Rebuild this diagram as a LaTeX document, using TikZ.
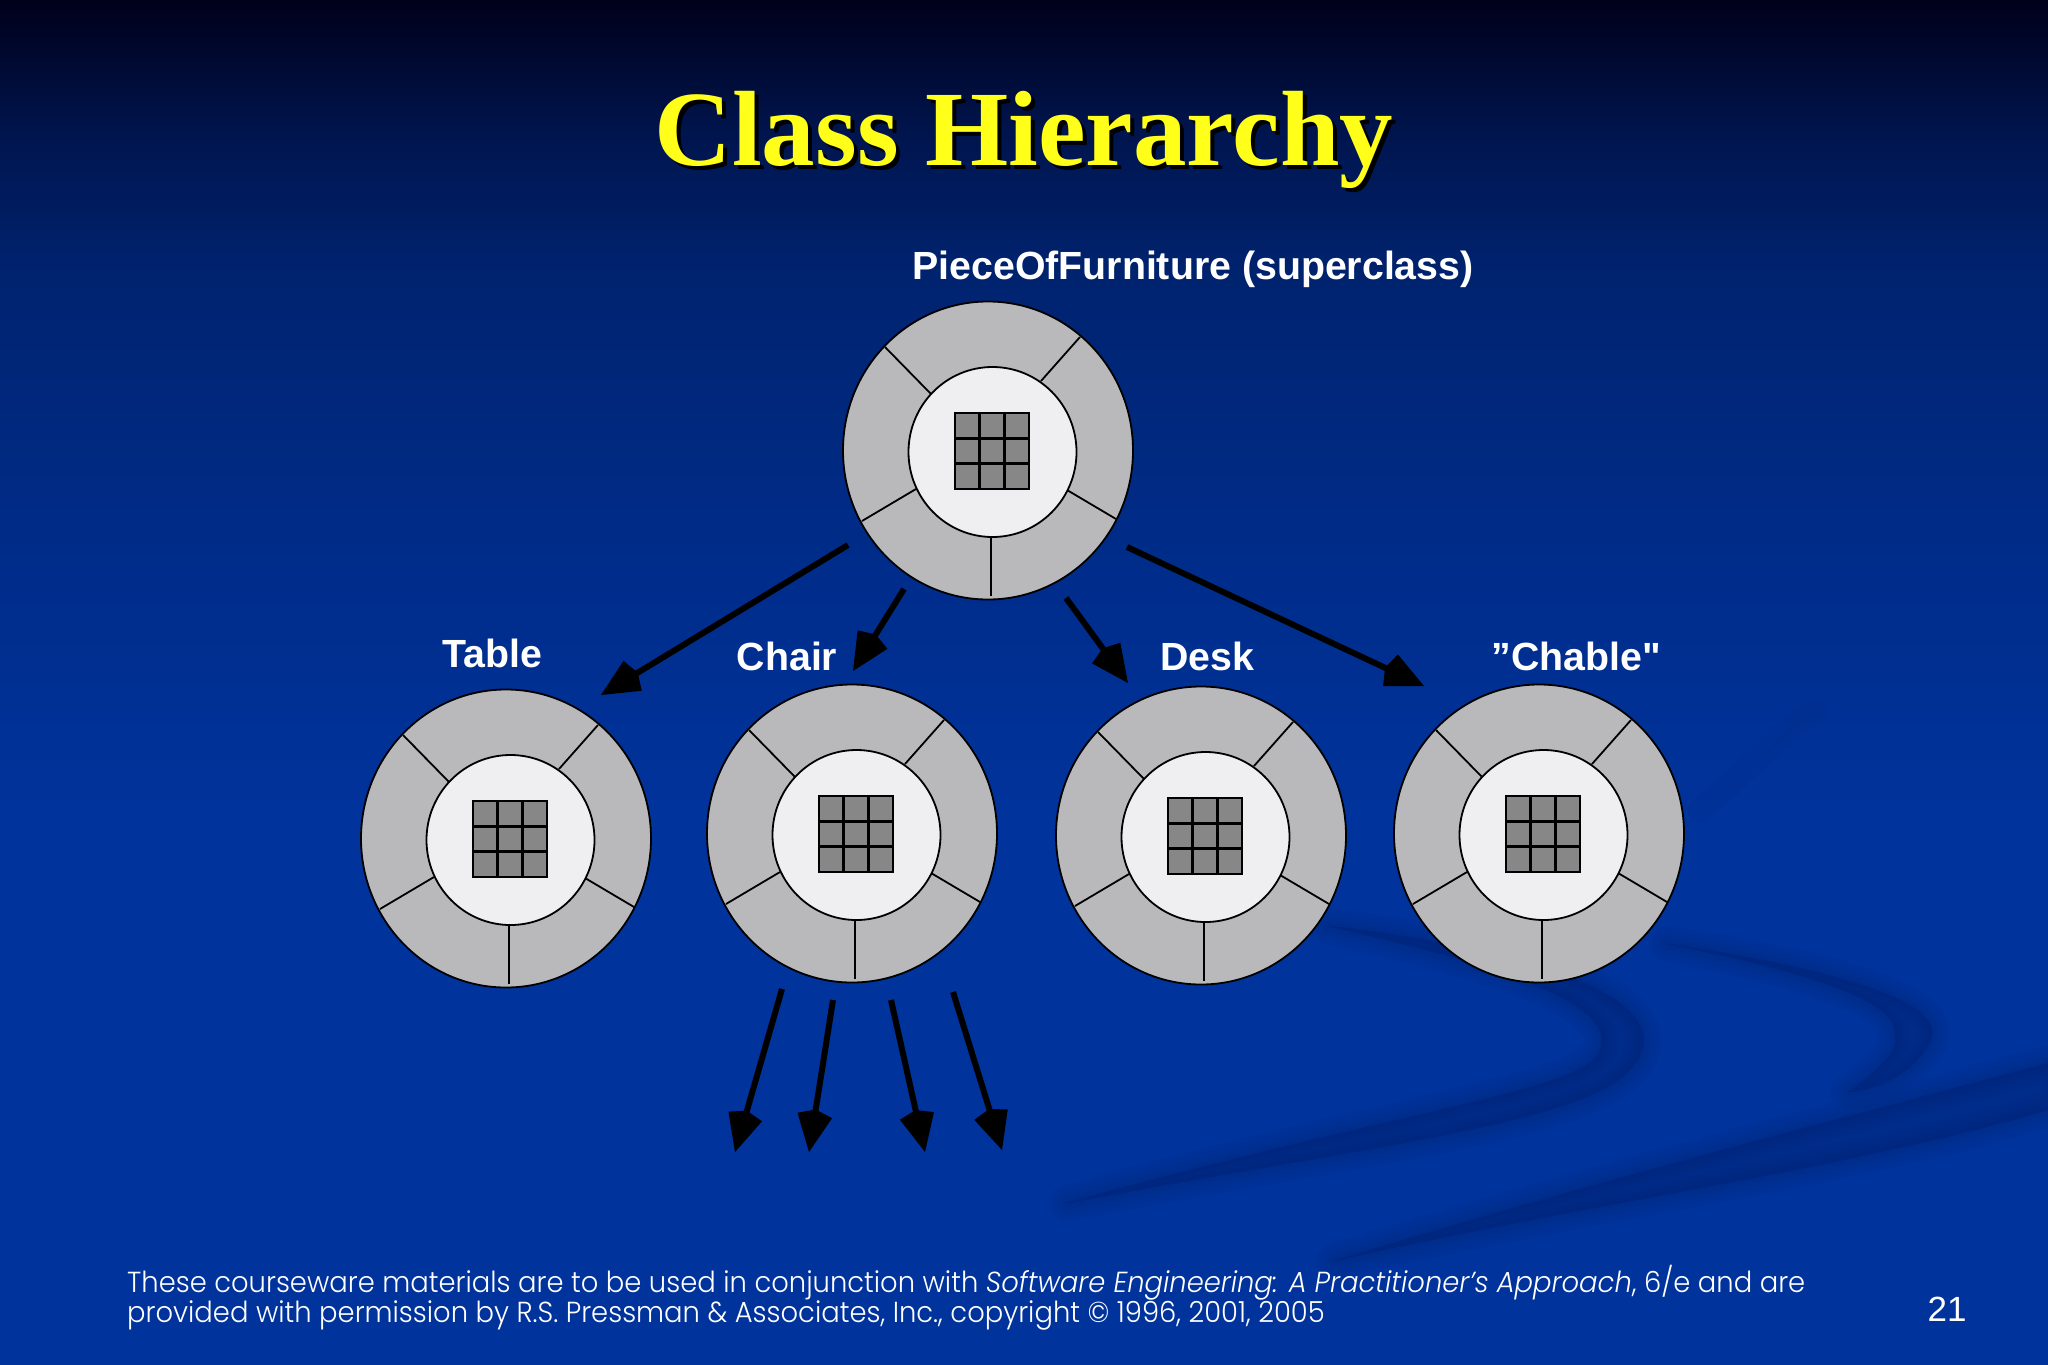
\documentclass[tikz,border=0pt]{standalone}
\usepackage{fontspec}
\usetikzlibrary{arrows.meta}
\setmainfont{Liberation Sans}
\newfontfamily\titlefont{Liberation Serif}
\newfontfamily\labelfont{Liberation Sans}
\newfontfamily\footfont[FakeStretch=0.945]{Poppins Light}
\definecolor{ringgray}{HTML}{B9B8BA}
\definecolor{hubgray}{HTML}{EFEEF1}
\definecolor{cellgray}{HTML}{878787}
\definecolor{swooshc}{HTML}{00236E}
\definecolor{titleyellow}{HTML}{FFFF1A}
\definecolor{bg1}{HTML}{00001A}
\definecolor{bg2}{HTML}{00154F}
\definecolor{bg3}{HTML}{00236F}
\definecolor{bg4}{HTML}{002C89}
\definecolor{bg5}{HTML}{00339C}
\pgfdeclareverticalshading{slidebg}{100bp}{
  color(0bp)=(bg5); color(25bp)=(bg5); color(45bp)=(bg5); color(55bp)=(bg4);
  color(65bp)=(bg3); color(70bp)=(bg2); color(75bp)=(bg1); color(100bp)=(bg1)}
\tikzset{
  x=1pt,y=-1pt,
  spoke/.style={draw=black,line width=1.8pt},
  hub/.style={draw=black,line width=1.8pt,fill=hubgray},
  cell/.style={draw=black,line width=2pt,fill=cellgray},
  celllines/.style={draw=black,line width=3.4pt},
  inherit/.style={draw=black,line width=6pt,-{Kite[length=43pt,width=35pt,inset=6pt]}},
  classname/.style={text=white,anchor=base,font=\labelfont\bfseries\fontsize{39.3}{39.3}\selectfont},
  swoosh/.style={line join=round,draw=swooshc,fill=swooshc,opacity=0.065},
  wheel/.pic={
    \fill[ringgray,draw=black,line width=1.8pt] (988,450.5) ellipse [x radius=145,y radius=149];
    \coordinate (-s1a) at (885,347); \coordinate (-s1b) at (931,394);
    \coordinate (-s2a) at (1080,337); \coordinate (-s2b) at (1041,381);
    \coordinate (-s3a) at (862,521); \coordinate (-s3b) at (916,489);
    \coordinate (-s4a) at (1116,519); \coordinate (-s4b) at (1067,490);
    \coordinate (-s5a) at (991,596); \coordinate (-s5b) at (991,536);
    \draw[spoke] (-s1a)--(-s1b);
    \draw[spoke] (-s2a)--(-s2b);
    \draw[spoke] (-s3a)--(-s3b);
    \draw[spoke] (-s4a)--(-s4b);
    \draw[spoke] (-s5a)--(-s5b);
    \draw[hub] (992.5,452) ellipse [x radius=84,y radius=85];
    \draw[cell] (955,413) rectangle (1029,489);
    \draw[celllines] (979.7,413)--(979.7,489) (1004.3,413)--(1004.3,489)
                (955,438.3)--(1029,438.3) (955,463.7)--(1029,463.7);
  }
}
\begin{document}
\begin{tikzpicture}
\useasboundingbox (0,0) rectangle (2048,1365);
\shade[shading=slidebg] (0,0) rectangle (2048,1365);
% background swooshes
\foreach \w in {1,7,14,21,28,36}{
  \path[swoosh,line width=\w pt] (1327,926) .. controls (1500,945) and (1670,990) .. (1640,1055) .. controls (1615,1120) and (1400,1140) .. (1067,1203) .. controls (1400,1110) and (1590,1090) .. (1600,1050) .. controls (1620,1000) and (1480,960) .. (1327,926) -- cycle;
  \path[swoosh,line width=\w pt] (1668,944) .. controls (1810,965) and (1960,1000) .. (1928,1045) .. controls (1915,1070) and (1880,1090) .. (1848,1092) .. controls (1880,1070) and (1900,1050) .. (1895,1035) .. controls (1900,1000) and (1800,970) .. (1668,944) -- cycle;
  \path[swoosh,line width=\w pt] (2060,1060) .. controls (1800,1130) and (1600,1180) .. (1334,1261) .. controls (1600,1200) and (1850,1170) .. (2060,1106) -- cycle;
}
\draw[swoosh,line width=24pt,line cap=round,opacity=0.07] (1700,810) .. controls (1740,780) and (1780,730) .. (1815,712);
% title
\node[anchor=base,text=black,font=\titlefont\bfseries\fontsize{107}{107}\selectfont] (titleshadow) at (1028,169) {Class Hierarchy};
\node[anchor=base,text=titleyellow,font=\titlefont\bfseries\fontsize{107}{107}\selectfont] (title) at (1024,165) {Class Hierarchy};
% wheels
\pic (top) at (0,0) {wheel};
\pic (table) at (-482,388) {wheel};
\pic (chair) at (-136,383) {wheel};
\pic (desk) at (213,385) {wheel};
\pic (chable) at (551,383) {wheel};
% labels
\node[classname] (lsuper) at (1193,279) {PieceOfFurniture (superclass)};
\node[classname] (ltable) at (492.5,667) {Table};
\node[classname] (lchair) at (787,670) {Chair};
\node[classname] (ldesk) at (1207,670) {Desk};
\node[classname] (lchable) at (1576,670) {”Chable"};
% arrows
\coordinate (a1s) at (848,545); \coordinate (a1e) at (601,695);
\coordinate (a2s) at (904,589); \coordinate (a2e) at (853,671);
\coordinate (a3s) at (1066,598); \coordinate (a3e) at (1128,683);
\coordinate (a4s) at (1127,547); \coordinate (a4e) at (1424,686);
\coordinate (b1s) at (782,989); \coordinate (b1e) at (735,1152);
\coordinate (b2s) at (833,1000); \coordinate (b2e) at (809,1152);
\coordinate (b3s) at (891,1000); \coordinate (b3e) at (925,1152);
\coordinate (b4s) at (953,992); \coordinate (b4e) at (1002,1150);
\draw[inherit] (a1s)--(a1e);
\draw[inherit] (a2s)--(a2e);
\draw[inherit] (a3s)--(a3e);
\draw[inherit] (a4s)--(a4e);
\draw[inherit] (b1s)--(b1e);
\draw[inherit] (b2s)--(b2e);
\draw[inherit] (b3s)--(b3e);
\draw[inherit] (b4s)--(b4e);
% footer
\node[anchor=base west,inner sep=0pt,text=white,font=\footfont\fontsize{29}{29}\selectfont] (foot1) at (127,1292) {These courseware materials are to be used in conjunction with \textit{Software Engineering: A Practitioner’s Approach}, 6/e and are};
\node[anchor=base west,inner sep=0pt,text=white,font=\footfont\fontsize{29}{29}\selectfont] (foot2) at (127,1322) {provided with permission by R.S. Pressman \& Associates, Inc., copyright © 1996, 2001, 2005};
\node[anchor=base,inner sep=0pt,text=white,font=\fontsize{35}{35}\selectfont] (pageno) at (1947,1321) {21};
\end{tikzpicture}
\end{document}
